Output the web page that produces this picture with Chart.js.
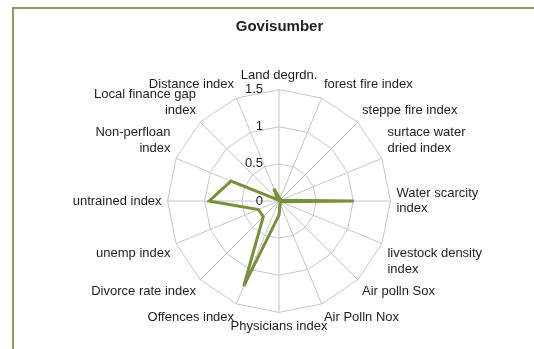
<!DOCTYPE html>
<html lang="en">
<head>
  <meta charset="UTF-8" />
  <title>Govisumber</title>
  <script src="https://cdn.jsdelivr.net/npm/chart.js"></script>
  <style>
    * {
      box-sizing: border-box;
      margin: 0;
      padding: 0;
    }

    body {
      background-color: #ffffff;
      width: 534px;
      height: 349px;
      overflow: hidden;
    }

    .frame {
      position: absolute;
      left: 12px;
      top: 7px;
      width: 540px;
      height: 360px;
      border-top: 2px solid #8e9c5e;
      border-left: 2px solid #8e9c5e;
    }

    .chart-box {
      position: absolute;
      left: 0;
      top: 0;
      width: 534px;
      height: 349px;
    }
  </style>
</head>
<body>

<div class="frame"></div>
<div class="chart-box">
  <canvas id="radarChart"></canvas>
</div>

<script>
  // Indicator names, clockwise from the top
  const indicators = [
    'Land degrdn.',
    'forest fire index',
    'steppe fire index',
    ['surtace water', 'dried index'],
    ['Water scarcity', 'index'],
    ['livestock density', 'index'],
    'Air polln Sox',
    'Air Polln Nox',
    'Physicians index',
    'Offences index',
    'Divorce rate index',
    'unemp index',
    'untrained index',
    ['Non-perfloan', 'index'],
    ['Local finance gap', 'index'],
    'Distance index'
  ];

  const govisumberValues = [
    0.05, 0.03, 0.03, 0.03, 1.01, 0.03, 0.02, 0.04,
    0.19, 1.24, 0.30, 0.30, 0.94, 0.70, 0.02, 0.18
  ];

  const tickValues = [0, 0.5, 1, 1.5];

  // tick numbers sit to the left of the vertical spoke
  const leftTicks = {
    id: 'leftTicks',
    afterDatasetsDraw(chart) {
      const scale = chart.scales.r;
      const ctx = chart.ctx;
      ctx.save();
      ctx.font = "13px 'Liberation Sans', Arial, sans-serif";
      ctx.fillStyle = '#222222';
      ctx.textAlign = 'right';
      ctx.textBaseline = 'middle';
      tickValues.forEach(v => {
        const y = scale.yCenter - scale.getDistanceFromCenterForValue(v);
        ctx.fillText(String(v), scale.xCenter - 16, y);
      });
      ctx.restore();
    }
  };

  const ctx = document.getElementById('radarChart').getContext('2d');

  new Chart(ctx, {
    type: 'radar',
    data: {
      labels: indicators,
      datasets: [{
        label: 'Govisumber',
        data: govisumberValues,
        borderColor: '#77903a',
        backgroundColor: 'rgba(0,0,0,0)',
        borderWidth: 3,
        pointRadius: 0,
        fill: false
      }]
    },
    options: {
      responsive: true,
      maintainAspectRatio: false,
      animation: false,
      layout: {
        padding: { top: 0, left: 33, right: 8, bottom: 14 }
      },
      plugins: {
        legend: { display: false },
        tooltip: { enabled: false },
        title: {
          display: true,
          text: 'Govisumber',
          color: '#222222',
          font: { family: "'Liberation Sans', Arial, sans-serif", size: 15, weight: 'bold' },
          padding: { top: 18, bottom: 33 }
        }
      },
      scales: {
        r: {
          min: 0,
          max: 1.5,
          ticks: {
            stepSize: 0.5,
            display: false
          },
          grid: { color: '#c6c6c6', lineWidth: 1 },
          angleLines: { color: '#c6c6c6', lineWidth: 1 },
          pointLabels: {
            color: '#1e1e1e',
            padding: 6,
            font: { family: "'Liberation Sans', Arial, sans-serif", size: 13 }
          }
        }
      }
    },
    plugins: [leftTicks]
  });
</script>

</body>
</html>
